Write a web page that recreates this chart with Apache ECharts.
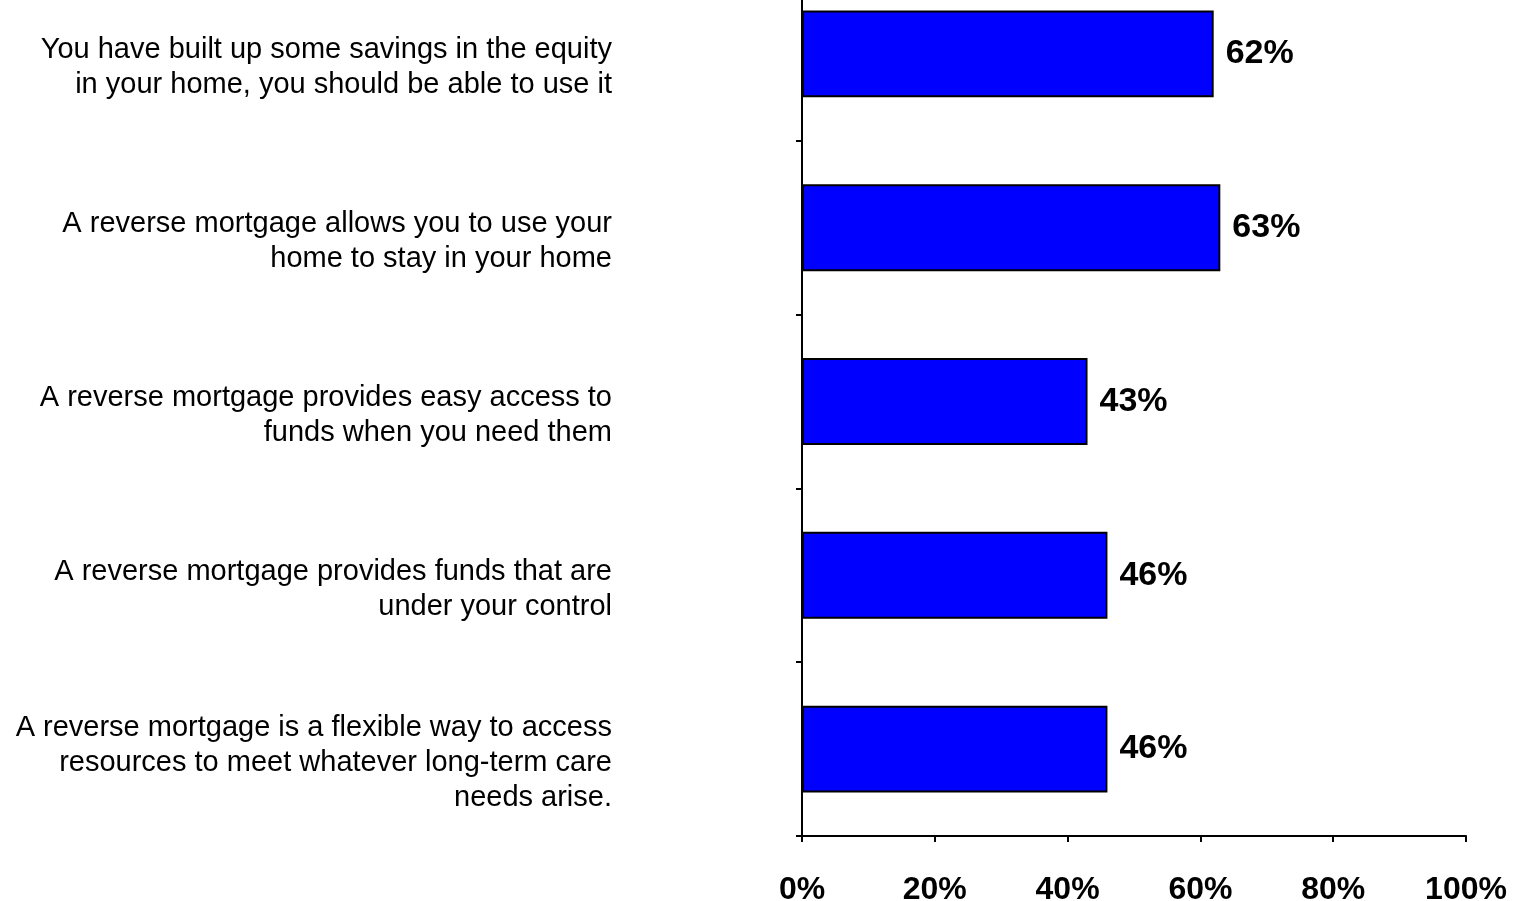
<!DOCTYPE html>
<html>
<head>
<meta charset="utf-8">
<script src="https://cdn.jsdelivr.net/npm/echarts@6/dist/echarts.min.js"></script>
<style>
  html, body { margin: 0; padding: 0; background: #ffffff; overflow: hidden; }
  /* the plot extends a little above the page, so the canvas starts above it */
  #chart { width: 1519px; height: 934px; margin-top: -33px; }
</style>
</head>
<body>
<div id="chart"></div>
<script>
// Statements about reverse mortgages, listed top to bottom
const categories = [
  'You have built up some savings in the equity\nin your home, you should be able to use it',
  'A reverse mortgage allows you to use your\nhome to stay in your home',
  'A reverse mortgage provides easy access to\nfunds when you need them',
  'A reverse mortgage provides funds that are\nunder your control',
  'A reverse mortgage is a flexible way to access\nresources to meet whatever long-term care\nneeds arise.'
];
// Share of respondents agreeing, in percent
const values = [62, 63, 43, 46, 46];
// Percent scale ticks
const xTicks = [0, 20, 40, 60, 80, 100];

const FONT = 'Liberation Sans, Arial, sans-serif';

const chart = echarts.init(document.getElementById('chart'));
chart.setOption({
  animation: false,
  backgroundColor: '#ffffff',
  grid: { left: 802, right: 53, top: 0, bottom: 65, containLabel: false, outerBoundsMode: 'none' },
  xAxis: {
    type: 'value',
    min: xTicks[0],
    max: xTicks[xTicks.length - 1],
    interval: xTicks[1] - xTicks[0],
    splitLine: { show: false },
    axisLine: { show: true, lineStyle: { color: '#000', width: 2 } },
    axisTick: { show: true, length: 6, lineStyle: { color: '#000', width: 2 } },
    axisLabel: {
      margin: 38,
      verticalAlign: 'top',
      color: '#000',
      fontFamily: FONT,
      fontWeight: 'bold',
      fontSize: 32,
      formatter: v => v + '%'
    }
  },
  yAxis: {
    type: 'category',
    data: categories,
    inverse: true,
    axisLine: { show: true, lineStyle: { color: '#000', width: 2 } },
    axisTick: { show: true, length: 6, inside: false, lineStyle: { color: '#000', width: 2 } },
    // statement text is drawn by the label series below, sitting a bit low in each band
    axisLabel: { show: false }
  },
  series: [{
    type: 'bar',
    data: values,
    barCategoryGap: '50%',
    itemStyle: { color: '#0000ff', borderColor: '#000', borderWidth: 2 },
    label: {
      show: true,
      position: 'right',
      distance: 12,
      color: '#000',
      fontFamily: FONT,
      fontWeight: 'bold',
      fontSize: 34,
      formatter: p => p.value + '%'
    }
  }, {
    // statement labels anchored at the zero line of each category
    type: 'scatter',
    silent: true,
    symbolSize: 0,
    itemStyle: { opacity: 1 },
    data: categories.map(c => [0, c]),
    label: {
      show: true,
      position: 'left',
      distance: 190,
      offset: [0, 14],
      align: 'right',
      verticalAlign: 'middle',
      color: '#000000',
      opacity: 1,
      fontFamily: FONT,
      fontSize: 29,
      lineHeight: 35,
      formatter: p => categories[p.dataIndex]
    }
  }]
});
</script>
</body>
</html>
